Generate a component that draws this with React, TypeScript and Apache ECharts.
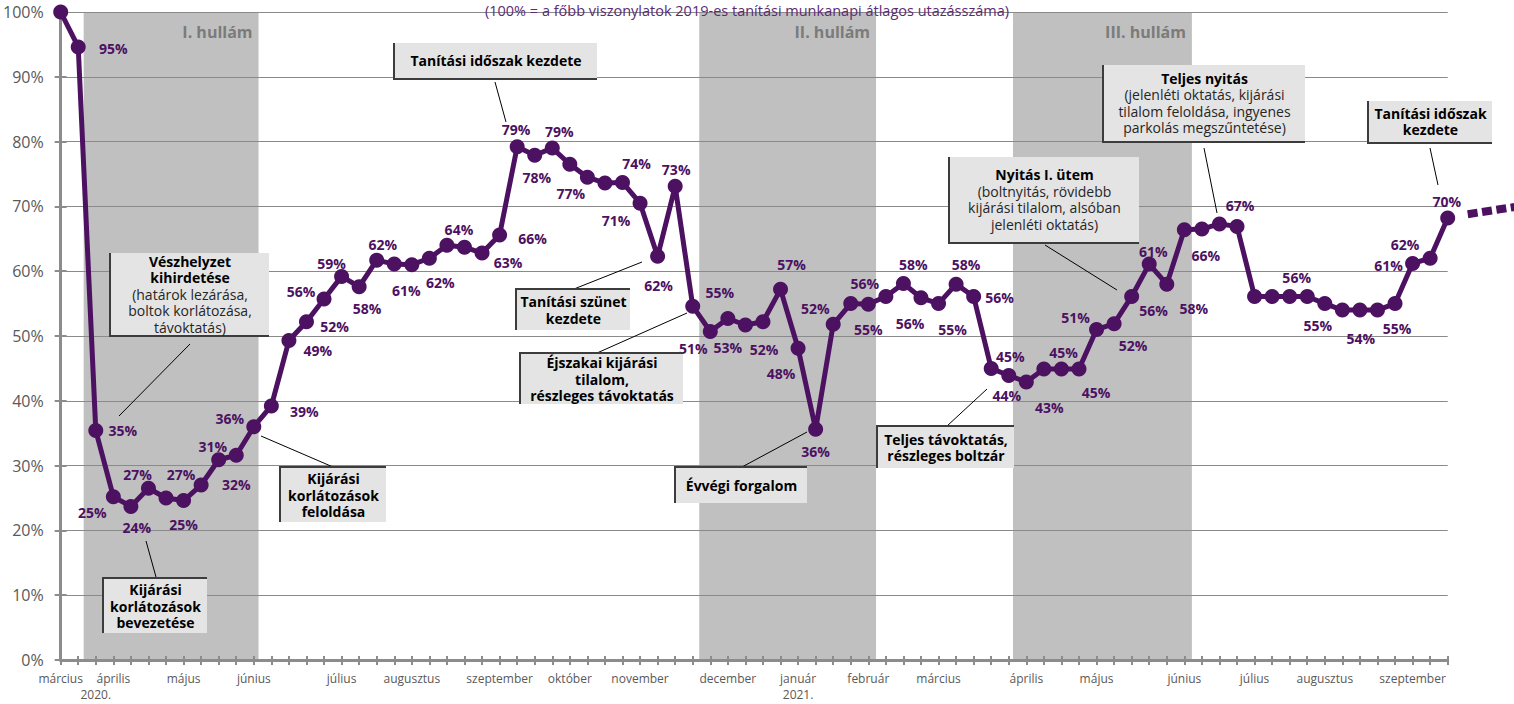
import React, { useEffect, useRef } from 'react';
import * as echarts from 'echarts';

// ---------- data ----------
const VALUES: number[] = [
  100.0, 94.6, 35.4, 25.2, 23.7, 26.5, 25.0, 24.6, 27.0, 30.9,
  31.6, 36.0, 39.2, 49.3, 52.2, 55.7, 59.2, 57.6, 61.7, 61.1,
  61.0, 62.0, 64.0, 63.7, 62.8, 65.6, 79.2, 77.9, 79.0, 76.5,
  74.5, 73.6, 73.7, 70.5, 62.3, 73.1, 54.6, 50.7, 52.7, 51.7,
  52.2, 57.2, 48.1, 35.6, 51.8, 55.0, 54.9, 56.1, 58.1, 55.9,
  55.0, 58.0, 56.1, 45.0, 43.9, 42.9, 44.9, 44.9, 44.9, 51.0,
  51.9, 56.1, 61.1, 58.0, 66.4, 66.5, 67.3, 66.9, 56.1, 56.1,
  56.1, 56.1, 55.0, 54.0, 54.0, 54.0, 55.0, 61.2, 62.0, 68.2,
];

// projected (dotted) continuation after the last week
const PROJ_X: number[] = [80.14, 82.8];
const PROJ_Y: number[] = [68.8, 69.9];

// data labels: [week index, text]
const LABELS: [number, string][] = [
  [1, '95%'], [2, '35%'], [3, '25%'], [4, '24%'], [5, '27%'], [7, '25%'], [8, '27%'],
  [9, '31%'], [10, '32%'], [11, '36%'], [12, '39%'], [13, '49%'], [14, '52%'], [15, '56%'],
  [16, '59%'], [17, '58%'], [18, '62%'], [19, '61%'], [21, '62%'], [22, '64%'], [24, '63%'],
  [25, '66%'], [26, '79%'], [27, '78%'], [28, '79%'], [29, '77%'], [32, '74%'], [33, '71%'],
  [34, '62%'], [35, '73%'], [36, '55%'], [37, '51%'], [38, '53%'], [40, '52%'], [41, '57%'],
  [42, '48%'], [43, '36%'], [44, '52%'], [45, '56%'], [46, '55%'], [48, '58%'], [49, '56%'],
  [50, '55%'], [51, '58%'], [52, '56%'], [53, '45%'], [54, '44%'], [55, '43%'], [57, '45%'],
  [58, '45%'], [59, '51%'], [60, '52%'], [61, '56%'], [62, '61%'], [63, '58%'], [65, '66%'],
  [67, '67%'], [70, '56%'], [72, '55%'], [74, '54%'], [76, '55%'], [77, '61%'], [78, '62%'],
  [79, '70%'],
];

// x-axis month labels: [week index, text]
const MONTH_LABELS: [number, string][] = [
  [0, 'március'], [2, '\n2020.'], [3, 'április'], [7, 'május'], [11, 'június'], [16, 'július'],
  [20, 'augusztus'], [25, 'szeptember'], [29, 'október'], [33, 'november'], [38, 'december'],
  [42, 'január\n2021.'], [46, 'február'], [50, 'március'], [55, 'április'], [59, 'május'],
  [64, 'június'], [68, 'július'], [72, 'augusztus'], [77, 'szeptember'],
];

const Y_TICKS_MIN = 0;
const Y_TICKS_MAX = 100;
const Y_TICK_STEP = 10;

// pandemic waves: [name, from week, to week]
const WAVES: [string, number, number][] = [
  ['I. hullám', 1.31, 11.27],
  ['II. hullám', 36.37, 46.44],
  ['III. hullám', 54.24, 64.43],
];

const TITLE = '(100% = a főbb viszonylatok 2019-es tanítási munkanapi átlagos utazásszáma)';

// ---------- layout / style (separate from data) ----------
const FONT = '"Open Sans", "Noto Sans", sans-serif';
const PURPLE = '#4c1161';
const GRID_COLOR = '#8a8a8a';
const AXIS_COLOR = '#8c8c8c';

const LABEL_OFFSETS: Record<number, [number, number]> = {
  1: [35, 2], 2: [27, 0], 3: [-21, 16], 4: [6, 21], 5: [-11, -14], 7: [0, 24], 8: [-20, -11],
  9: [-6, -13], 10: [0, 29], 11: [-24, -8], 12: [33, 6], 13: [29, 10], 14: [28, 5], 15: [-23, -8],
  16: [-10, -13], 17: [8, 22], 18: [6, -16], 19: [12, 26], 21: [11, 24], 22: [12, -16], 24: [26, 9],
  25: [33, 4], 26: [-1, -17], 27: [2, 22], 28: [7, -17], 29: [1, 29], 32: [14, -19], 33: [-24, 17],
  34: [1, 29], 35: [1, -17], 36: [27, -14], 37: [-17, 17], 38: [0, 29], 40: [1, 28], 41: [11, -25],
  42: [-17, 25], 43: [0, 22], 44: [-18, -16], 45: [14, -20], 46: [0, 25], 48: [10, -19], 49: [-11, 26],
  50: [14, 26], 51: [10, -20], 52: [26, 1], 53: [19, -12], 54: [-2, 20], 55: [23, 25], 57: [2, -17],
  58: [17, 23], 59: [-21, -12], 60: [19, 22], 61: [22, 14], 62: [4, -13], 63: [27, 24], 65: [4, 26],
  67: [3, -21], 70: [7, -19], 72: [-7, 22], 74: [1, 28], 76: [2, 25], 77: [-24, 2], 78: [-25, -14],
  79: [-1, -17],
};

type Line = [string, boolean];
interface Callout {
  lines: Line[];
  box: [number, number, number, number];
  edge: 'top' | 'bottom';
  leader: [number, number, number, number];
}

const CALLOUTS: Callout[] = [
  {
    lines: [['Vészhelyzet', true], ['kihirdetése', true], ['(határok lezárása,', false], ['boltok korlátozása,', false], ['távoktatás)', false]],
    box: [111, 253, 158, 82], edge: 'bottom', leader: [190, 344, 119, 416],
  },
  {
    lines: [['Kijárási', true], ['korlátozások', true], ['bevezetése', true]],
    box: [104, 579, 103, 54], edge: 'top', leader: [146, 541, 156, 577],
  },
  {
    lines: [['Kijárási', true], ['korlátozások', true], ['feloldása', true]],
    box: [281, 468, 105, 54], edge: 'top', leader: [261, 436, 333, 467],
  },
  {
    lines: [['Tanítási időszak kezdete', true]],
    box: [395, 43, 202, 35], edge: 'bottom', leader: [495, 82, 506, 122],
  },
  {
    lines: [['Tanítási szünet', true], ['kezdete', true]],
    box: [517, 290, 113, 40], edge: 'top', leader: [574, 289, 642, 262],
  },
  {
    lines: [['Éjszakai kijárási', true], ['tilalom,', true], ['részleges távoktatás', true]],
    box: [521, 354, 162, 50], edge: 'top', leader: [597, 353, 687, 313],
  },
  {
    lines: [['Évvégi forgalom', true]],
    box: [676, 468, 131, 35], edge: 'top', leader: [742, 467, 807, 432],
  },
  {
    lines: [['Teljes távoktatás,', true], ['részleges boltzár', true]],
    box: [878, 427, 136, 41], edge: 'top', leader: [947, 426, 987, 389],
  },
  {
    lines: [['Nyitás I. ütem', true], ['(boltnyitás, rövidebb', false], ['kijárási tilalom, alsóban', false], ['jelenléti oktatás)', false]],
    box: [950, 157, 189, 85], edge: 'bottom', leader: [1045, 245, 1117, 290],
  },
  {
    lines: [['Teljes nyitás', true], ['(jelenléti oktatás, kijárási', false], ['tilalom feloldása, ingyenes', false], ['parkolás megszűntetése)', false]],
    box: [1104, 65, 201, 76], edge: 'bottom', leader: [1204, 148, 1217, 213],
  },
  {
    lines: [['Tanítási időszak', true], ['kezdete', true]],
    box: [1369, 101, 123, 41], edge: 'bottom', leader: [1430, 148, 1438, 185],
  },
];

function buildCallout(c: Callout): any[] {
  const [x, y, w, h] = c.box;
  const dark = '#3c3c3c';
  const text = c.lines.map(([t, b]) => `{${b ? 'b' : 'n'}|${t}}`).join('\n');
  const rich = {
    b: { fontFamily: FONT, fontWeight: 'bold', fontSize: 14, lineHeight: 16.5, fill: '#000000' },
    n: { fontFamily: FONT, fontWeight: 'normal', fontSize: 14, lineHeight: 16.5, fill: '#262626' },
  };
  const group = {
    type: 'group',
    x,
    y,
    children: [
      { type: 'rect', z: 30, shape: { x: 0, y: 0, width: w, height: h }, style: { fill: '#e4e4e4' } },
      { type: 'rect', z: 31, shape: { x: -2, y: c.edge === 'top' ? -2 : 0, width: 2, height: h + 2 }, style: { fill: dark } },
      { type: 'rect', z: 31, shape: { x: -2, y: c.edge === 'top' ? -2 : h, width: w + 2, height: 2 }, style: { fill: dark } },
      {
        type: 'text', z: 32,
        style: { text, x: w / 2, y: h / 2, align: 'center', verticalAlign: 'middle', rich, font: `14px ${FONT}` },
      },
    ],
  };
  const [x1, y1, x2, y2] = c.leader;
  const leader = { type: 'line', z: 30, shape: { x1, y1, x2, y2 }, style: { stroke: '#000000', lineWidth: 1 } };
  return [group, leader];
}

function buildGraphics(): any[] {
  const graphics: any[] = [];
  graphics.push({
    type: 'text',
    z: 30,
    style: {
      text: TITLE, x: 747, y: 3, align: 'center', verticalAlign: 'top',
      fill: '#5b2a73', font: `14.5px ${FONT}`,
    },
  });
  CALLOUTS.forEach((c) => graphics.push(...buildCallout(c)));
  return graphics;
}

function buildOption(): any {
  const labelMap = new Map<number, string>(LABELS);
  const monthMap = new Map<number, string>(MONTH_LABELS);

  const mainData = VALUES.map((v, i) => {
    const t = labelMap.get(i);
    if (!t) return { value: [i, v] };
    const off = LABEL_OFFSETS[i] || [0, -16];
    return {
      value: [i, v],
      label: {
        show: true,
        formatter: t,
        position: 'inside',
        offset: off,
        color: PURPLE,
        fontFamily: FONT,
        fontWeight: 'bold',
        fontSize: 14,
        textBorderWidth: 0,
      },
    };
  });

  const xMax = VALUES.length - 1;
  const axisCommon = { type: 'value', min: 0, max: xMax, interval: 1, z: 3 };

  return {
    animation: false,
    textStyle: { fontFamily: FONT },
    grid: { left: 59, right: 66.3, top: 12, bottom: 44, containLabel: false },
    xAxis: [
      {
        ...axisCommon,
        position: 'bottom',
        axisLine: { show: true, onZero: false, lineStyle: { color: AXIS_COLOR, width: 3 } },
        axisTick: { show: true, length: 5, lineStyle: { color: AXIS_COLOR, width: 2 } },
        axisLabel: {
          show: true,
          margin: 10,
          color: '#595959',
          fontSize: 12,
          lineHeight: 16,
          fontFamily: FONT,
          showMinLabel: true,
          showMaxLabel: true,
          formatter: (v: number) => monthMap.get(Math.round(v)) || '',
        },
        splitLine: { show: false },
      },
      {
        ...axisCommon,
        position: 'bottom',
        axisLine: { show: false, onZero: false },
        axisTick: { show: true, inside: true, length: 4, lineStyle: { color: AXIS_COLOR, width: 2 } },
        axisLabel: { show: false },
        splitLine: { show: false },
      },
    ],
    yAxis: [
      {
        type: 'value',
        min: Y_TICKS_MIN,
        max: Y_TICKS_MAX,
        interval: Y_TICK_STEP,
        z: 3,
        position: 'left',
        axisLine: { show: true, onZero: false, lineStyle: { color: AXIS_COLOR, width: 3 } },
        axisTick: { show: true, length: 6, lineStyle: { color: AXIS_COLOR, width: 2 } },
        axisLabel: { show: true, margin: 17, color: '#595959', fontSize: 16, fontFamily: FONT, formatter: '{value}%' },
        splitLine: { show: true, lineStyle: { color: GRID_COLOR, width: 1 } },
      },
      {
        type: 'value',
        min: Y_TICKS_MIN,
        max: Y_TICKS_MAX,
        interval: Y_TICK_STEP,
        z: 3,
        position: 'left',
        axisLine: { show: false, onZero: false },
        axisTick: { show: true, inside: true, length: 6, lineStyle: { color: AXIS_COLOR, width: 2 } },
        axisLabel: { show: false },
        splitLine: { show: false },
      },
    ],
    series: [
      {
        type: 'line',
        name: 'waves',
        z: 1,
        silent: true,
        symbol: 'none',
        showSymbol: false,
        lineStyle: { opacity: 0 },
        data: VALUES.map((v, i) => [i, v]),
        emphasis: { disabled: true },
        markArea: {
          silent: true,
          itemStyle: { color: '#c0c0c0' },
          label: {
            show: true,
            position: 'insideTopRight',
            distance: 6,
            offset: [0, 6],
            color: '#7b7b7b',
            fontWeight: 'bold',
            fontSize: 16,
            fontFamily: FONT,
          },
          data: WAVES.map(([name, a, b]) => [{ name, xAxis: a }, { xAxis: b }]),
        },
      },
      {
        type: 'line',
        name: 'utazásszám',
        z: 5,
        silent: true,
        symbol: 'circle',
        symbolSize: 15,
        lineStyle: { color: PURPLE, width: 5 },
        itemStyle: { color: PURPLE },
        label: { show: false },
        emphasis: { disabled: true },
        data: mainData,
      },
    ],
    graphic: buildGraphics(),
  };
}

export default function App() {
  const ref = useRef<HTMLDivElement>(null);
  useEffect(() => {
    if (!ref.current) return;
    const chart = echarts.init(ref.current, null, { renderer: 'svg' });
    chart.setOption(buildOption());
    // dotted projection, positioned through the chart's own axes
    const pts = PROJ_X.map((x, i) =>
      chart.convertToPixel({ xAxisIndex: 0, yAxisIndex: 0 }, [x, PROJ_Y[i]]) as number[]
    );
    const projection = {
      type: 'polyline',
      z: 20,
      silent: true,
      shape: { points: pts },
      style: { stroke: PURPLE, lineWidth: 8, lineDash: [10, 4.5], lineCap: 'butt', fill: null },
    };
    chart.setOption({ graphic: [...buildGraphics(), projection] });
    return () => chart.dispose();
  }, []);
  return (
    <div
      ref={ref}
      style={{ position: 'fixed', left: 0, top: 0, width: 1514, height: 704, background: '#ffffff' }}
    />
  );
}
